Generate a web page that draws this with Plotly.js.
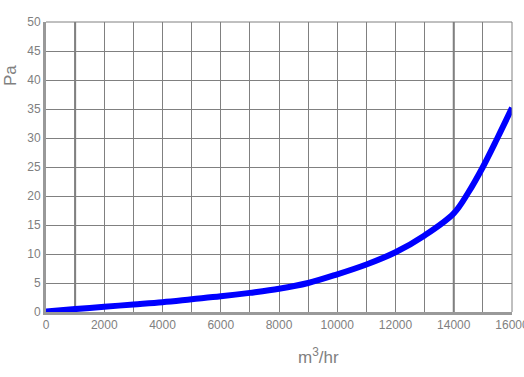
<!DOCTYPE html>
<html>
<head>
<meta charset="utf-8">
<script src="https://cdn.plot.ly/plotly-3.0.1.min.js"></script>
<style>html,body{margin:0;padding:0;background:#fff;}#chart{width:524px;height:377px;}</style>
</head>
<body>
<div id="chart"></div>
<script>
var airflow = [0, 1000, 2000, 3000, 4000, 5000, 6000, 7000, 8000, 9000, 10000, 11000, 12000, 13000, 14000, 14500, 15000, 15500, 16000];
var pressure = [0.1, 0.5, 0.9, 1.3, 1.7, 2.2, 2.7, 3.3, 4.0, 5.0, 6.5, 8.2, 10.3, 13.2, 17.0, 20.6, 25.0, 30.0, 35.2];
var xTickVals = [0, 2000, 4000, 6000, 8000, 10000, 12000, 14000, 16000];
var xTickText = ['0', '2000', '4000', '6000', '8000', '10000', '12000', '14000', '16000'];
var xTitle = 'm<sup>3</sup>/hr';
var yTitle = 'Pa';
var heavyGridX = [1000, 14000];

var grey = '#808080';
var tickFont = {family: 'Liberation Sans, Arial, sans-serif', size: 12, color: grey};

var shapes = heavyGridX.map(function (v) {
  return {type: 'line', xref: 'x', yref: 'paper', x0: v, x1: v, y0: 0, y1: 1,
          line: {color: '#777777', width: 2}, layer: 'below'};
});

var layout = {
  width: 524, height: 377,
  margin: {l: 46, r: 12, t: 22, b: 65},
  paper_bgcolor: '#ffffff', plot_bgcolor: '#ffffff',
  showlegend: false,
  xaxis: {
    range: [0, 16000], tickmode: 'array', tickvals: xTickVals, ticktext: xTickText,
    showgrid: false, zeroline: false, ticklabeloverflow: 'allow',
    showline: true, linecolor: '#999999', linewidth: 3, mirror: false,
    ticks: '', tickfont: tickFont, automargin: false
  },
  xaxis2: {
    overlaying: 'x', range: [0, 16000], dtick: 1000, tick0: 0,
    showgrid: true, gridcolor: grey, gridwidth: 1, showticklabels: false,
    zeroline: false, showline: false
  },
  yaxis: {
    range: [0, 50], dtick: 5, showgrid: true, gridcolor: grey, gridwidth: 1,
    zeroline: false, showline: true, linecolor: '#999999', linewidth: 3,
    ticks: '', tickfont: tickFont, automargin: false
  },
  shapes: shapes.concat([
    {type: 'line', xref: 'paper', yref: 'paper', x0: 0, x1: 1, y0: 1, y1: 1, line: {color: grey, width: 1}},
    {type: 'line', xref: 'paper', yref: 'paper', x0: 1, x1: 1, y0: 0, y1: 1, line: {color: grey, width: 1}}
  ]),
  annotations: [
    {text: xTitle, xref: 'paper', yref: 'paper', x: (318 - 46) / 466, y: -(356 - 312) / 290,
     showarrow: false, xanchor: 'center', yanchor: 'middle',
     font: {family: 'Liberation Sans, Arial, sans-serif', size: 17, color: grey}},
    {text: yTitle, xref: 'paper', yref: 'paper', x: (10 - 46) / 466, y: (312 - 76) / 290,
     showarrow: false, xanchor: 'center', yanchor: 'middle', textangle: -90,
     font: {family: 'Liberation Sans, Arial, sans-serif', size: 17, color: grey}}
  ]
};

var traces = [
  {x: [0, 16000], y: [0, 0], xaxis: 'x2', yaxis: 'y', mode: 'lines', line: {width: 0, color: 'rgba(0,0,0,0)'}, hoverinfo: 'skip', showlegend: false},
  {x: airflow, y: pressure, mode: 'lines', line: {color: '#0000ff', width: 6, shape: 'spline', smoothing: 1},
   cliponaxis: false}
];

Plotly.newPlot('chart', traces, layout, {staticPlot: true, displayModeBar: false});
</script>
</body>
</html>
